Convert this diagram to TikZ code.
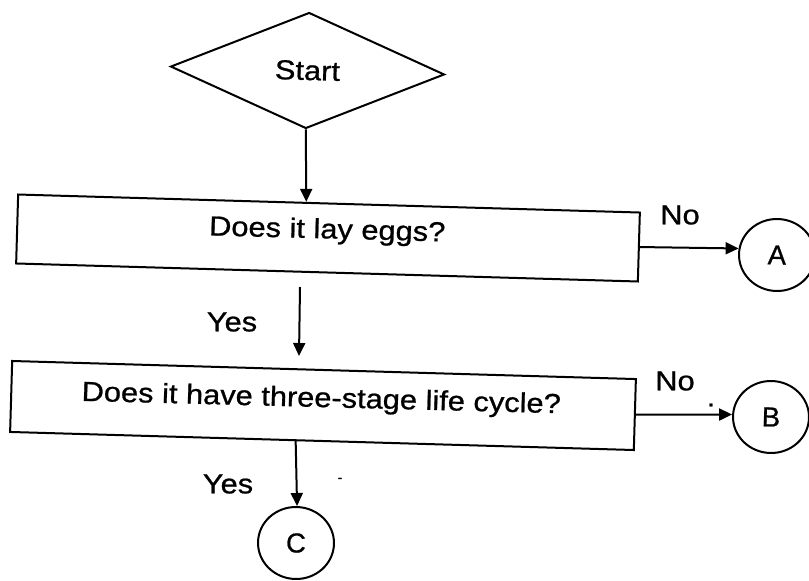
\documentclass[tikz,border=0pt]{standalone}
\usepackage{fontspec}
\setmainfont{Liberation Sans}[BoldFont=Liberation Sans, BoldFeatures={FakeBold=0.8}]
\usetikzlibrary{shapes.geometric,arrows.meta,calc}
\begin{document}
\begin{tikzpicture}[x=1pt,y=-1pt,
  every node/.style={font=\fontsize{27.5}{33}\selectfont\bfseries},
  shp/.style={draw, line width=2pt, inner sep=0pt, rotate=-1.66},
  boxst/.style={shp, rectangle},
  decst/.style={shp, diamond},
  conn/.style={shp, ellipse, minimum width=76pt, minimum height=72pt},
  lbl/.style={inner sep=0pt, xscale=1.12},
  btxt/.style={lbl, anchor=base, rotate=-1.66},
  arr/.style={line width=2pt, -{Triangle[length=13pt,width=12pt]}}]
\useasboundingbox (0,0) rectangle (809,581);

% shapes
\node[decst, minimum width=274pt, minimum height=116pt] (start) at (307.5,70.5) {\scalebox{1.12}[1]{Start}};
\node[boxst, minimum width=622pt, minimum height=69pt] (box1) at (328,238) {};
\node[boxst, minimum width=624pt, minimum height=71pt] (box2) at (323,405.5) {};
\node[btxt] (t1) at (327,238.4) {Does it lay eggs?};
\node[btxt] (t2) at (321,407) {Does it have three-stage life cycle?};

\node[conn] (A) at (777,255) {A};
\node[conn] (B) at (771,417) {B};
\node[conn] (C) at (296,543) {C};

% labels
\node[lbl] (no1) at (680,215) {No};
\node[lbl] (no2) at (675,381) {No};
\node[lbl] (yes1) at (232,322) {Yes};
\node[lbl] (yes2) at (228,484) {Yes};
\node[inner sep=0pt, font=\fontsize{14}{16}\selectfont\bfseries] (dash) at (340,480) {-};
\node[inner sep=0pt] (dot) at (711,405) {.};

% connectors
\coordinate (ya) at (300,287);
\coordinate (yb) at (299,356);
\draw[arr] (start.south) -- ($(box1.north west)!0.4635!(box1.north east)$);
\draw[arr] (ya) -- (yb);
\draw[arr] (box1.east) -- (A.172);
\draw[arr] (box2.east) -- (B.178);
\draw[arr] ($(box2.south west)!0.458!(box2.south east)$) -- (C.north);
\end{tikzpicture}
\end{document}
